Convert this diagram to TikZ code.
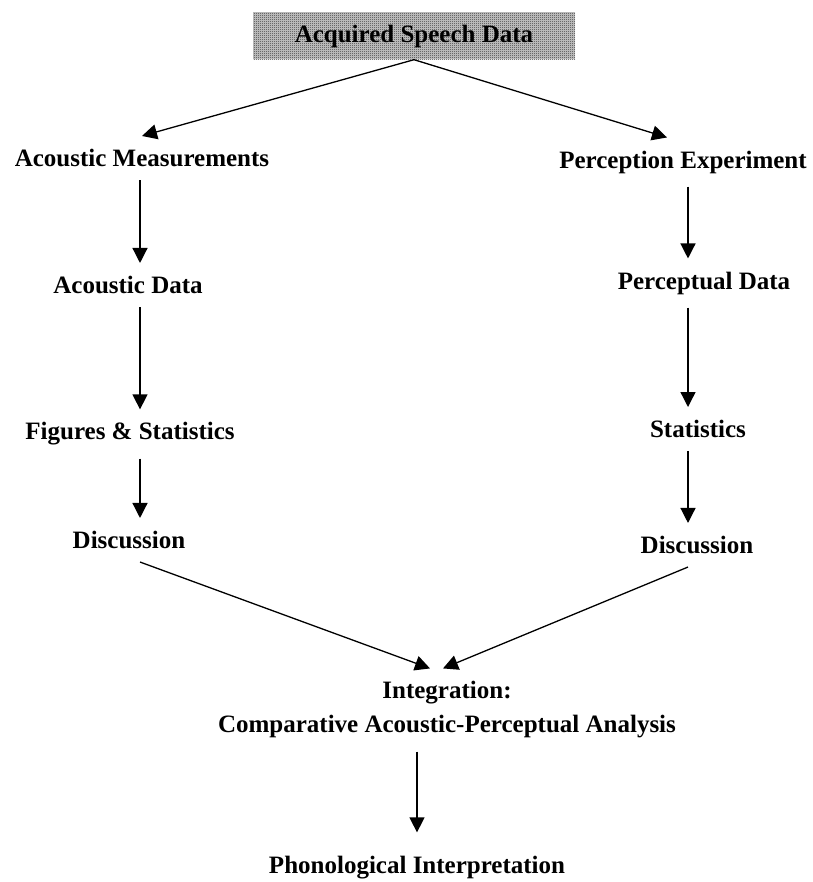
\documentclass[tikz,border=0pt]{standalone}
\usepackage{fontspec}
\setmainfont{Liberation Serif}
\usetikzlibrary{arrows.meta}
\usetikzlibrary{patterns}

\pgfdeclarepatternformonly{finechecker}{\pgfpointorigin}{\pgfqpoint{2pt}{2pt}}{\pgfqpoint{2pt}{2pt}}{%
  \pgfpathrectangle{\pgfpointorigin}{\pgfqpoint{1pt}{1pt}}%
  \pgfpathrectangle{\pgfqpoint{1pt}{1pt}}{\pgfqpoint{1pt}{1pt}}%
  \pgfusepath{fill}}

\begin{document}
\begin{tikzpicture}[x=1pt, y=-1pt]

  \tikzset{stage/.style = {font=\fontsize{25}{34}\selectfont\bfseries, inner xsep=2pt, inner ysep=13pt, align=center}}
  \tikzset{source/.style = {stage, inner ysep=0pt, minimum width=322pt, minimum height=47pt,
      preaction={fill=gray!40}, pattern=finechecker, pattern color=black!80}}
  \tikzset{flow/.style = {-{Triangle[length=15pt,width=15pt]}, line width=1.3pt}}
  \useasboundingbox (0,0) rectangle (812,882);
  % columns
  \coordinate (lcol) at (140,0);
  \coordinate (rcol) at (688,0);
  % stages
  \node[source] (src)   at (414,36)  {Acquired Speech Data};
  \node[stage]  (am)    at (142,158) {Acoustic Measurements};
  \node[stage]  (ad)    at (128,285) {Acoustic Data};
  \node[stage]  (fs)    at (130,434) {Figures \& Statistics};
  \node[stage]  (ldisc) at (129,540) {Discussion};
  \node[stage]  (pe)    at (683,162) {Perception Experiment};
  \node[stage]  (pd)    at (704,283) {Perceptual Data};
  \node[stage]  (st)    at (698,429) {Statistics};
  \node[stage]  (rdisc) at (697,545) {Discussion};
  \node[stage]  (int)   at (447,710) {Integration:\\Comparative Acoustic-Perceptual Analysis};
  \node[stage]  (phon)  at (417,868) {Phonological Interpretation};
  % flows
  \draw[flow] (src.south) -- (am.north);
  \draw[flow] (src.south) -- ([xshift=-16pt]pe.north);
  \draw[flow] (am.south -| lcol) -- (ad.north -| lcol);
  \draw[flow] (ad.south -| lcol) -- (fs.north -| lcol);
  \draw[flow] (fs.south -| lcol) -- (ldisc.north -| lcol);
  \draw[flow] (pe.south -| rcol) -- (pd.north -| rcol);
  \draw[flow] (pd.south -| rcol) -- (st.north -| rcol);
  \draw[flow] (st.south -| rcol) -- (rdisc.north -| rcol);
  \draw[flow] (ldisc.south -| lcol) -- ([xshift=-17pt]int.north);
  \draw[flow] (rdisc.south -| rcol) -- ([xshift=-4pt]int.north);
  \draw[flow, shorten >=11pt] (int.south -| phon.north) -- (phon.north);
\end{tikzpicture}
\end{document}
